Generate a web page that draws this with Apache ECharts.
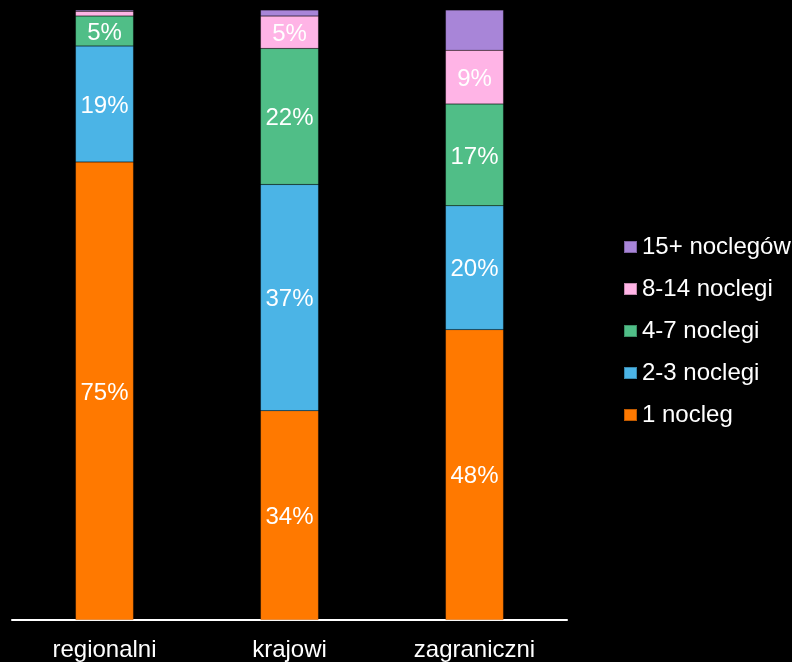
<!DOCTYPE html>
<html>
<head>
<meta charset="utf-8">
<script src="https://cdn.jsdelivr.net/npm/echarts@6/dist/echarts.min.js"></script>
<style>
html,body{margin:0;padding:0;background:#000;}
#chart{width:792px;height:662px;}
</style>
</head>
<body>
<div id="chart"></div>
<script>
const categories = ['regionalni', 'krajowi', 'zagraniczni'];
const seriesNames = ['1 nocleg', '2-3 noclegi', '4-7 noclegi', '8-14 noclegi', '15+ noclegów'];
const nocleg1 = [75.1, 34.3, 47.6];
const noclegi2_3 = [19.0, 37.1, 20.3];
const noclegi4_7 = [4.9, 22.3, 16.7];
const noclegi8_14 = [0.8, 5.3, 8.8];
const noclegi15 = [0.2, 1.0, 6.6];
const colors = ['#FF7900', '#4BB4E6', '#50BE87', '#FFB4E6', '#A885D8'];
const allData = [nocleg1, noclegi2_3, noclegi4_7, noclegi8_14, noclegi15];

const chart = echarts.init(document.getElementById('chart'));
const font = 'Liberation Sans, Arial, sans-serif';
chart.setOption({
  backgroundColor: '#000',
  animation: false,
  grid: { left: 12, right: 225, top: 10, bottom: 40 },
  legend: {
    orient: 'vertical',
    left: 623,
    top: 235,
    padding: 0,
    data: seriesNames.slice().reverse(),
    itemWidth: 13,
    itemHeight: 12,
    itemGap: 18,
    itemTextGap: 5,
    icon: 'rect',
    textStyle: { color: '#fff', fontSize: 24, fontFamily: font, lineHeight: 24 }
  },
  xAxis: {
    type: 'category',
    data: categories,
    axisLine: { lineStyle: { color: '#fff', width: 2 } },
    axisTick: { show: false },
    axisLabel: { color: '#fff', fontSize: 24, fontFamily: font, margin: 18 }
  },
  yAxis: {
    type: 'value',
    min: 0,
    max: 100,
    show: false
  },
  series: seriesNames.map((name, i) => ({
    name: name,
    type: 'bar',
    stack: 'total',
    barWidth: '31.4%',
    data: allData[i],
    itemStyle: { color: colors[i], borderColor: 'rgba(0,0,0,0.25)', borderWidth: 0.5 },
    label: {
      show: true,
      position: 'inside',
      offset: [0, 2],
      color: '#fff',
      fontSize: 24,
      fontFamily: font,
      formatter: p => (i < 4 && p.value >= 4) ? Math.round(p.value) + '%' : ''
    }
  }))
});
</script>
</body>
</html>
